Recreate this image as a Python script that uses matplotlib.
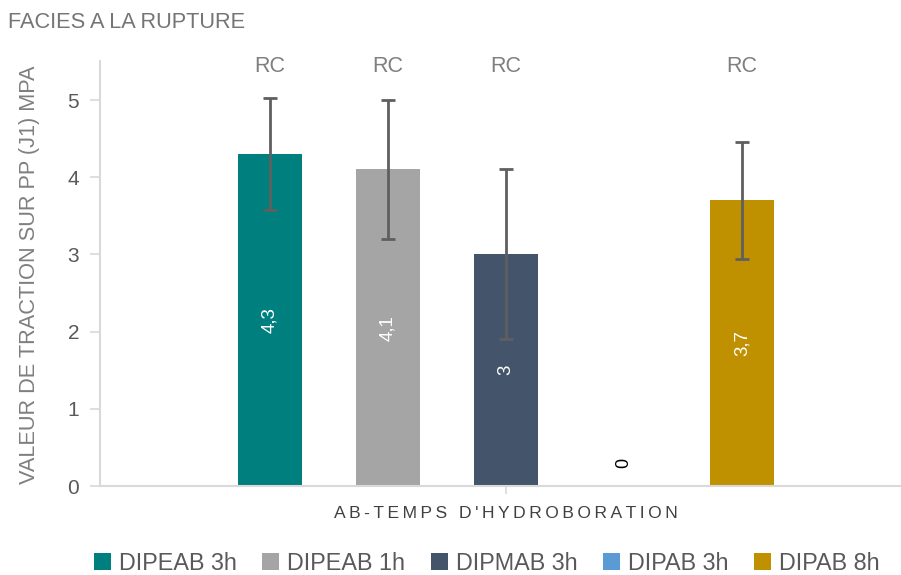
import matplotlib
matplotlib.use("Agg")
import matplotlib.pyplot as plt
from matplotlib.patches import Patch

plt.rcParams['font.family'] = ['Liberation Sans', 'DejaVu Sans']

categories = ["DIPEAB 3h", "DIPEAB 1h", "DIPMAB 3h", "DIPAB 3h", "DIPAB 8h"]
values = [4.3, 4.1, 3.0, 0.0, 3.7]
errors = [0.72, 0.90, 1.10, 0.0, 0.76]
value_labels = ["4,3", "4,1", "3", "0", "3,7"]
top_labels = ["RC", "RC", "RC", "", "RC"]
colors = ["#007F7F", "#A5A5A5", "#44546A", "#5B9BD5", "#BF9000"]
yticks = [0, 1, 2, 3, 4, 5]

fig = plt.figure(figsize=(9.01, 5.75), dpi=100)
ax = fig.add_axes([100/901, 89/575, 812/901, (486-61.4)/575])

x = list(range(len(categories)))
bars = ax.bar(x, values, width=0.54, color=colors, zorder=2)
for xi, v, e in zip(x, values, errors):
    if e > 0:
        ax.errorbar(xi, v, yerr=e, fmt='none', ecolor='#5F5F5F', elinewidth=2,
                    capsize=5, capthick=2, zorder=3)

for xi, v, lab in zip(x, values, value_labels):
    if v > 0:
        ax.text(xi, v/2, lab, rotation=90, ha='center', va='center',
                color='white', fontsize=13.5, zorder=4)
    else:
        ax.text(xi, 0.3, lab, rotation=90, ha='center', va='center',
                color='black', fontsize=13, zorder=4)

for xi, lab in zip(x, top_labels):
    if lab:
        ax.text(xi, 5.43, lab, ha='center', va='center', color='#7F7F7F',
                fontsize=15.5, clip_on=False)

ax.set_xlim(2 - 406/118, 2 + 406/118)
ax.set_ylim(0, 5.5)
ax.set_yticks(yticks)
ax.set_yticklabels([str(t) for t in yticks], fontsize=15, color='#595959')
ax.set_xticks([2])
ax.set_xticklabels([''])
ax.tick_params(axis='y', length=7, color='#D9D9D9', width=1.2, pad=8)
ax.tick_params(axis='x', length=6, color='#D9D9D9', width=1.2)

for s in ['top', 'right']:
    ax.spines[s].set_visible(False)
for s in ['left', 'bottom']:
    ax.spines[s].set_color('#D9D9D9')
    ax.spines[s].set_linewidth(1.5)

ax.set_ylabel("VALEUR DE TRACTION SUR PP (J1) MPA", fontsize=15.7,
              color='#7F7F7F')
ax.yaxis.set_label_coords(-(100-40)/812, (486-275)/(486-61.4))

xl = "\u2009".join("AB-TEMPS D'HYDROBORATION")
fig.text(506/901, 1 - 513/575, xl, ha='center', va='center', fontsize=12.6,
         color='#404040', family=['Liberation Sans', 'DejaVu Sans'])

fig.text(8/901, 1 - 22/575, "FACIES A LA RUPTURE", ha='left', va='center',
         fontsize=15.7, color='#757575')

handles = [Patch(facecolor=c, edgecolor='none') for c in colors]
fig.legend(handles, categories, loc='center', bbox_to_anchor=(487/901, 1 - 563/575),
           ncol=5, frameon=False, fontsize=16.8, labelcolor='#595959',
           handlelength=0.72, handleheight=0.72, handletextpad=0.35,
           columnspacing=1.1)

fig.savefig("out.png", dpi=100)
